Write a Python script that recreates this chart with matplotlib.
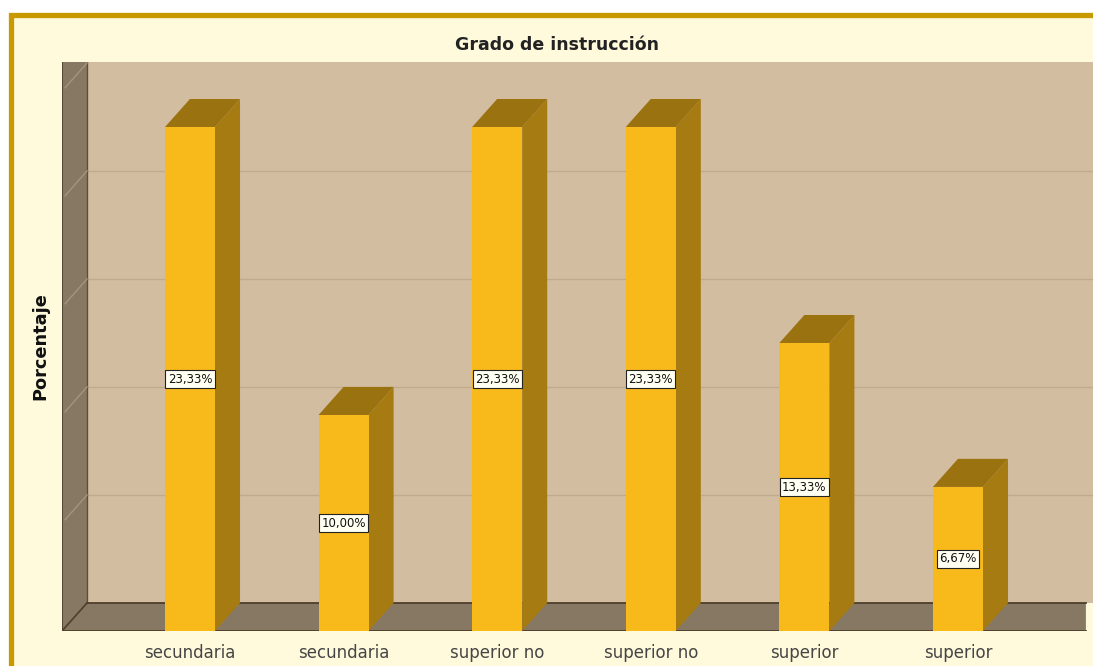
import matplotlib.pyplot as plt
from matplotlib.patches import Polygon, Rectangle

categories = ['secundaria', 'secundaria', 'superior no', 'superior no', 'superior', 'superior']
porcentaje = [23.33, 10.00, 23.33, 23.33, 13.33, 6.67]
grid_vals = [5, 10, 15, 20]

# colours
cream = '#FFFADC'
gold_border = '#C99A00'
wall = '#D3BDA1'
side_wall = '#877863'
edge_dark = '#4E3F2C'
bar_front = '#F8B91A'
bar_top = '#9B7210'
bar_side = '#A67B12'

fig = plt.figure(figsize=(10.93, 6.66), dpi=100, facecolor='white')

# gold frame around the chart
fig.patches.append(Rectangle((10.5 / 1093, -0.05), 1.1, 1 - 14.5 / 666 + 0.05,
                             transform=fig.transFigure, facecolor=cream,
                             edgecolor=gold_border, linewidth=3.8, zorder=-5))

ax = fig.add_axes([62 / 1093, 35 / 666, 1031 / 1093, 569 / 666])
ax.set_zorder(1)
ax.patch.set_visible(False)
for s in ax.spines.values():
    s.set_visible(False)

# pseudo 3d depth (in data units)
x0 = -0.833
dx = 0.163
dy = 1.30
w = 0.326
xright = x0 + 1031 / 153.6
ytop = 569 / 21.6
ax.set_xlim(x0, xright)
ax.set_ylim(0, ytop)

# back wall
ax.add_patch(Rectangle((x0 + dx, dy), 7, ytop, facecolor=wall, edgecolor='none', zorder=1))
for g in grid_vals:
    ax.plot([x0 + dx, 7], [g + dy, g + dy], color='#C0AA8E', lw=1, zorder=2)

# left wall
ax.add_patch(Polygon([(x0, 0), (x0 + dx, dy), (x0 + dx, ytop), (x0, ytop)],
                     facecolor=side_wall, edgecolor='none', zorder=3))
ax.plot([x0, x0], [0, ytop], color=edge_dark, lw=1.2, zorder=4)
ax.plot([x0 + dx, x0 + dx], [dy, ytop], color='#5E4E3A', lw=1, zorder=4)
for g in grid_vals + [25]:
    ax.plot([x0 + dx, x0 + 0.02], [g + dy, g + 0.15], color='#A39580', lw=1, zorder=4)

# floor
xfront = 5.833
ax.add_patch(Polygon([(x0, 0), (x0 + dx, dy), (xfront, dy), (xfront, 0)],
                     facecolor=side_wall, edgecolor='none', zorder=3))
ax.plot([x0, xfront], [0, 0], color=edge_dark, lw=1.3, zorder=4)
ax.plot([x0 + dx, xfront], [dy, dy], color=edge_dark, lw=1.3, zorder=4)
ax.plot([x0, x0 + dx], [0, dy], color=edge_dark, lw=1.2, zorder=4)
ax.add_patch(Rectangle((xfront, 0), 1, dy, facecolor=cream, edgecolor='none', zorder=3))

# bars
for i, v in enumerate(porcentaje):
    l, r = i - w / 2, i + w / 2
    ax.add_patch(Polygon([(r, 0), (r + dx, dy), (r + dx, v + dy), (r, v)],
                         facecolor=bar_side, edgecolor='none', zorder=5))
    ax.add_patch(Polygon([(l, v), (l + dx, v + dy), (r + dx, v + dy), (r, v)],
                         facecolor=bar_top, edgecolor='none', zorder=5))
    ax.add_patch(Rectangle((l, 0), w, v, facecolor=bar_front, edgecolor='none', zorder=6))
    ax.text(i, v / 2, f'{v:.2f}%'.replace('.', ','), ha='center', va='center',
            fontsize=8.5, color='#111111', zorder=7,
            bbox=dict(boxstyle='square,pad=0.2', facecolor='#FFFFF2',
                      edgecolor='#222222', linewidth=0.8))

ax.set_yticks([])
ax.set_xticks(range(len(categories)))
ax.set_xticklabels(categories, fontsize=12, color='#454545')
ax.tick_params(axis='x', length=0, pad=9)

fig.text(557 / 1093, 1 - 45 / 666, 'Grado de instrucción', ha='center', va='center',
         fontsize=12.5, fontweight='bold', color='#222222')
fig.text(40 / 1093, 1 - 346 / 666, 'Porcentaje', ha='center', va='center',
         rotation=90, fontsize=12.8, fontweight='bold', color='#111111')

fig.savefig('out.png', dpi=100, facecolor='white')
